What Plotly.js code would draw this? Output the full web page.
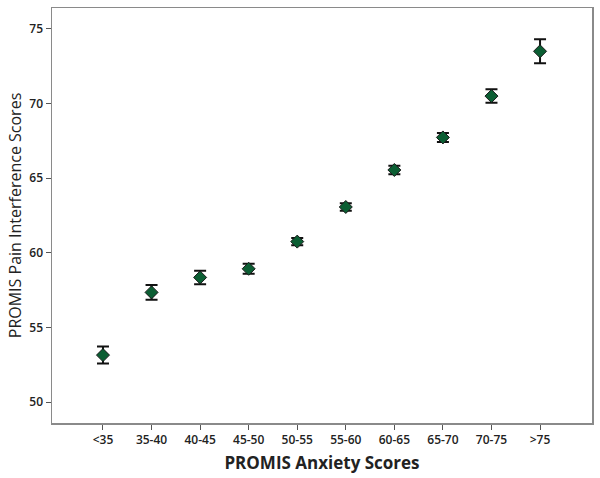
<!DOCTYPE html>
<html>
<head>
<meta charset="utf-8">
<script src="https://cdn.plot.ly/plotly-3.0.1.min.js"></script>
<style>
  body { margin: 0; background: #fff; }
  #chart { width: 600px; height: 478px; }
</style>
</head>
<body>
<div id="chart"></div>
<script>
// anxiety score bands
var groups = ['<35', '35-40', '40-45', '45-50', '50-55', '55-60', '60-65', '65-70', '70-75', '>75'];
// mean pain interference score per band
var means = [53.15, 57.35, 58.35, 58.93, 60.75, 63.07, 65.55, 67.73, 70.5, 73.5];
// half-length of error bar
var errs = [0.57, 0.5, 0.45, 0.33, 0.25, 0.25, 0.28, 0.3, 0.45, 0.8];

var trace = {
    x: groups,
    y: means,
    type: 'scatter',
    mode: 'markers',
    marker: {
        symbol: 'diamond',
        size: 10,
        color: '#0b5e33',
        line: { color: '#1a1a1a', width: 1 }
    },
    error_y: {
        type: 'data',
        array: errs,
        visible: true,
        color: '#111',
        thickness: 2,
        width: 6
    },
    hoverinfo: 'x+y'
};

var layout = {
    width: 600,
    height: 478,
    margin: { l: 52, r: 8, t: 8, b: 55 },
    paper_bgcolor: '#fff',
    plot_bgcolor: '#fff',
    showlegend: false,
    font: { family: 'Open Sans, sans-serif', color: '#333' },
    xaxis: {
        type: 'category',
        range: [-1.05, 10.07],
        showgrid: false,
        zeroline: false,
        showline: true,
        mirror: true,
        linecolor: '#8a8a8a',
        linewidth: 1.5,
        ticks: 'outside',
        ticklen: 5,
        tickcolor: '#555',
        tickfont: { size: 12, color: '#222', weight: 600 },
        title: { text: '<b>PROMIS Anxiety Scores</b>', font: { size: 17, color: '#222' }, standoff: 10 }
    },
    yaxis: {
        range: [48.6, 76.4],
        tickvals: [50, 55, 60, 65, 70, 75],
        showgrid: false,
        zeroline: false,
        showline: true,
        mirror: true,
        linecolor: '#8a8a8a',
        linewidth: 1.5,
        ticks: 'outside',
        ticklen: 5,
        tickcolor: '#555',
        tickfont: { size: 12, color: '#222', weight: 600 },
        title: { text: 'PROMIS Pain Interference Scores', font: { size: 16, color: '#222', weight: 500 }, standoff: 4 }
    }
};

Plotly.newPlot('chart', [trace], layout, { displayModeBar: false, staticPlot: true });
</script>
</body>
</html>
